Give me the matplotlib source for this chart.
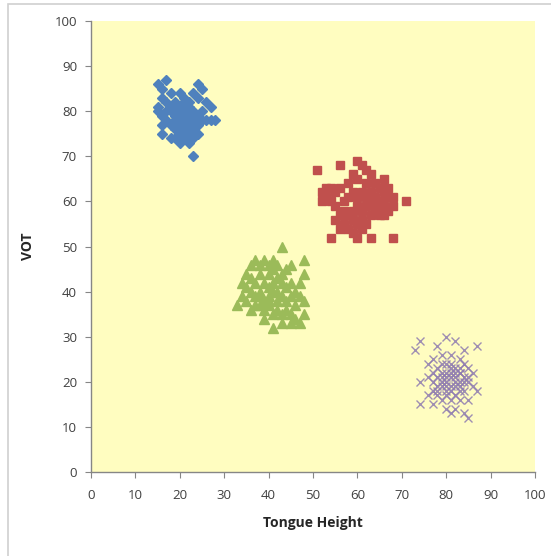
import matplotlib
matplotlib.use('Agg')
import matplotlib.pyplot as plt
from matplotlib.patches import Rectangle

# Skupiska punktów (Tongue Height, VOT)
blue_x = [15, 17, 16, 24, 25, 23, 18, 20, 21, 16, 15, 17, 19, 22, 24, 26, 27, 25, 15, 16,
          18, 19, 20, 21, 22, 23, 24, 17, 18, 19, 20, 21, 22, 23, 25, 26, 27, 28, 16, 19,
          20, 21, 22, 23, 24, 16, 18, 19, 21, 22, 23, 24, 20, 23, 17, 18, 20, 22, 19, 21]
blue_y = [86, 87, 85, 86, 85, 84, 84, 84, 83, 83, 81, 82, 82, 82, 83, 82, 81, 80, 80, 79,
          80, 79, 81, 80, 79, 80, 79, 78, 77, 78, 77, 78, 77, 78, 78, 78, 78, 78, 77, 76,
          75, 76, 75, 76, 77, 75, 74, 74, 74, 73, 74, 75, 73, 70, 80, 81, 79, 81, 80, 82]

red_x = [51, 56, 60, 61, 62, 59, 60, 63, 64, 65, 66, 67, 68, 66, 62, 58, 56, 55, 54, 53,
         52, 52, 54, 55, 57, 58, 59, 60, 61, 62, 63, 64, 65, 66, 67, 65, 64, 62, 61, 60,
         59, 58, 57, 56, 55, 57, 59, 60, 61, 63, 62, 61, 59, 58, 56, 54, 60, 63, 68, 71,
         64, 63, 67, 68, 66, 53]
red_y = [67, 68, 69, 68, 67, 66, 65, 66, 64, 63, 62, 61, 61, 65, 64, 64, 63, 62, 63, 61,
         62, 60, 60, 59, 60, 61, 62, 61, 62, 61, 60, 61, 60, 59, 58, 57, 58, 59, 58, 59,
         58, 57, 58, 57, 56, 55, 56, 55, 56, 57, 55, 54, 53, 54, 54, 52, 52, 52, 52, 60,
         59, 62, 63, 59, 57, 63]

green_x = [43, 36, 37, 38, 39, 40, 41, 42, 44, 45, 48, 48, 35, 36, 38, 40, 41, 42, 43, 34,
           35, 37, 39, 40, 41, 43, 44, 45, 46, 47, 47, 34, 35, 36, 37, 38, 39, 40, 41, 42,
           43, 44, 45, 46, 48, 48, 33, 36, 37, 38, 39, 40, 41, 42, 43, 44, 45, 46, 47, 39,
           41, 43, 45, 40, 42, 38]
green_y = [50, 46, 47, 46, 47, 46, 47, 46, 45, 46, 47, 44, 44, 43, 44, 44, 45, 43, 44, 42,
           41, 42, 42, 41, 42, 42, 41, 42, 40, 42, 39, 39, 38, 40, 39, 40, 38, 39, 40, 38,
           39, 38, 39, 37, 38, 35, 37, 36, 37, 37, 36, 37, 35, 36, 35, 36, 35, 34, 33, 34,
           32, 33, 33, 38, 40, 39]

purple_x = [80, 74, 73, 78, 82, 84, 87, 79, 77, 81, 83, 76, 78, 80, 82, 84, 85, 77, 79, 81,
            83, 86, 76, 78, 80, 82, 84, 85, 74, 77, 79, 81, 83, 86, 87, 78, 80, 82, 84, 76,
            79, 81, 83, 85, 74, 77, 80, 82, 84, 85, 81, 78, 80, 82, 79, 83, 81, 80,
            79, 81, 83, 80, 82, 78, 84, 81, 83, 79, 82, 80, 77, 85, 81, 83]
purple_y = [30, 29, 27, 28, 29, 27, 28, 26, 25, 26, 25, 24, 23, 24, 23, 24, 23, 22, 22, 22,
            22, 22, 21, 21, 20, 21, 21, 20, 20, 20, 19, 19, 19, 19, 18, 18, 18, 17, 18, 17,
            16, 16, 16, 16, 15, 15, 14, 14, 13, 12, 13, 17, 22, 19, 21, 20, 23, 17,
            24, 24, 23, 21, 22, 19, 20, 18, 18, 20, 20, 19, 18, 21, 21, 22]

ticks = list(range(0, 101, 10))

plt.rcParams['font.family'] = ['Open Sans', 'DejaVu Sans']

fig = plt.figure(figsize=(5.51, 5.56), dpi=100)
ax = fig.add_axes([0.165, 0.151, 0.806, 0.811])
ax.set_facecolor('#FFFDC0')

# Ramka wykresu (jak w Excelu)
fig.patches.append(Rectangle((8 / 551, -0.1), 1.2, 1.1 - 4 / 556, transform=fig.transFigure,
                             fill=False, edgecolor='#D0D0D0', linewidth=1.2))

ax.plot(blue_x, blue_y, 'D', color='#4F81BD', markersize=5.5, linestyle='none')
ax.plot(red_x, red_y, 's', color='#C0504D', markersize=5.6, linestyle='none')
ax.plot(green_x, green_y, '^', color='#9BBB59', markersize=6.5, linestyle='none')
ax.plot(purple_x, purple_y, 'x', color='#8E7BB0', markersize=6, markeredgewidth=1.0,
        linestyle='none', alpha=0.85)

ax.set_xlim(0, 100)
ax.set_ylim(0, 100)
ax.set_xticks(ticks)
ax.set_yticks(ticks)

for s in ['top', 'right']:
    ax.spines[s].set_visible(False)
for s in ['left', 'bottom']:
    ax.spines[s].set_color('#868686')
    ax.spines[s].set_linewidth(1.0)

ax.tick_params(axis='both', direction='out', length=4, color='#868686',
               labelsize=9.5, labelcolor='#404040')
ax.tick_params(axis='x', pad=8)
ax.tick_params(axis='y', pad=6)

ax.set_xlabel('Tongue Height', fontsize=10, fontweight='bold', color='#262626', labelpad=10)
ax.set_ylabel('VOT', fontsize=10, fontweight='bold', color='#262626', labelpad=14)

plt.savefig('out.png', dpi=100)
